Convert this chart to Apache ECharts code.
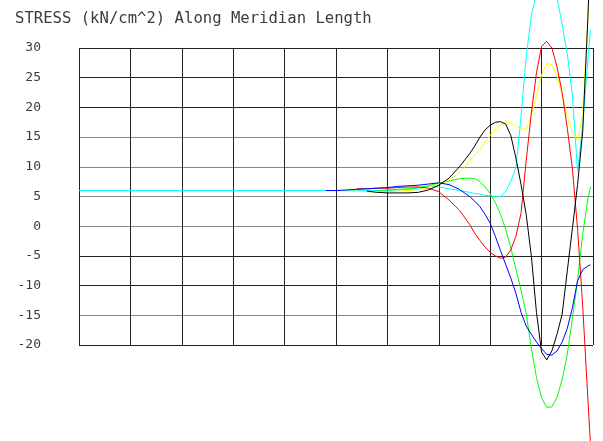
<!DOCTYPE html>
<html>
<head>
<meta charset="utf-8">
<script src="https://cdn.jsdelivr.net/npm/echarts@6/dist/echarts.min.js"></script>
<style>
  html, body { margin: 0; padding: 0; background: #ffffff; }
  #chart { width: 603px; height: 441px; }
</style>
</head>
<body>
<div id="chart"></div>
<script>
// Positions along the meridian (grid columns 0..10)
const positions = [0, 4.8, 5.0, 5.2, 5.4, 5.6, 5.8, 6.0, 6.2, 6.4, 6.6, 6.8, 7.0, 7.2, 7.4, 7.6,
  7.7, 7.8, 7.9, 8.0, 8.1, 8.2, 8.3, 8.4, 8.5, 8.6, 8.7, 8.8, 8.9, 9.0, 9.1, 9.2, 9.3, 9.4, 9.5,
  9.6, 9.7, 9.8, 9.9, 9.95];

// Stress values (kN/cm^2) at each position, one list per curve
const cyanStress = [6.0, 6.0, 6.0, 6.0, 6.0, 6.0, 6.0, 6.0, 6.1, 6.2, 6.4, 6.7, 6.6, 6.3, 6.0, 5.7,
  5.5, 5.4, 5.2, 5.1, 4.9, 5.0, 5.8, 7.6, 9.8, 18.5, 28.5, 35.5, 39.0, 40.8, 41.3, 40.5, 38.5, 34.0, 29.0,
  22.0, 9.3, 17.0, 28.0, 33.0];
const greenStress = [null, null, null, null, null, null, 6.0, 6.1, 6.2, 6.3, 6.5, 6.8, 7.3, 7.6, 8.0, 8.1,
  8.0, 7.5, 6.6, 5.5, 4.0, 2.0, -0.5, -3.6, -7.2, -10.8, -14.7, -20.5, -25.5, -28.9, -30.5, -30.4, -28.8, -25.8, -21.5,
  -15.5, -9.0, -1.3, 4.6, 6.6];
const yellowStress = [null, null, null, 5.9, 5.9, 5.8, 5.8, 5.8, 5.9, 6.0, 6.2, 6.6, 7.1, 7.8, 9.0, 10.9,
  12.0, 12.9, 14.2, 15.3, 16.3, 17.0, 17.4, 17.4, 16.9, 16.3, 16.4, 18.5, 22.0, 25.5, 27.4, 27.2, 25.3, 22.0, 18.5,
  16.0, 14.4, 19.0, 35.0, 45.0];
const redStress = [null, null, null, null, 6.3, 6.3, 6.4, 6.4, 6.5, 6.6, 6.6, 6.4, 5.8, 4.4, 2.7, 0.3,
  -1.2, -2.4, -3.5, -4.4, -5.0, -5.4, -5.2, -4.0, -1.7, 2.2, 11.0, 19.0, 25.8, 30.3, 31.1, 30.0, 26.8, 22.5, 16.5,
  9.6, -0.5, -13.5, -29.0, -36.5];
const blueStress = [null, 6.0, 6.0, 6.1, 6.2, 6.3, 6.4, 6.5, 6.7, 6.8, 6.9, 7.1, 7.3, 7.0, 6.2, 5.0,
  4.2, 3.3, 2.0, 0.5, -1.7, -4.1, -6.4, -8.7, -11.3, -14.5, -16.8, -18.2, -19.5, -20.6, -21.6, -21.7, -21.0, -19.5, -17.2,
  -13.7, -9.2, -7.3, -6.7, -6.5];
const blackStress = [null, null, null, null, null, 5.9, 5.7, 5.6, 5.6, 5.6, 5.7, 6.1, 6.9, 8.1, 10.0, 12.2,
  13.5, 15.0, 16.2, 17.0, 17.5, 17.6, 17.2, 15.3, 11.5, 7.0, 2.0, -5.0, -14.5, -21.2, -22.5, -21.0, -18.2, -14.8, -7.5,
  -0.3, 7.0, 16.0, 35.0, 46.0];

// Stress axis ticks
const stressTicks = [-20, -15, -10, -5, 0, 5, 10, 15, 20, 25, 30];

const curves = [
  { name: 'cyan', color: '#00ffff', values: cyanStress },
  { name: 'green', color: '#00ff00', values: greenStress },
  { name: 'yellow', color: '#ffff00', values: yellowStress },
  { name: 'red', color: '#ff0000', values: redStress },
  { name: 'blue', color: '#0000ff', values: blueStress },
  { name: 'black', color: '#000000', values: blackStress }
];

const chart = echarts.init(document.getElementById('chart'), null, { renderer: 'canvas' });

chart.setOption({
  animation: false,
  backgroundColor: '#ffffff',
  title: {
    text: 'STRESS (kN/cm^2) Along Meridian Length',
    left: 10,
    top: 6,
    textStyle: {
      fontFamily: 'DejaVu Sans Mono',
      fontSize: 15.6,
      fontWeight: 'normal',
      color: '#3c3c3c'
    }
  },
  grid: { left: 79, right: 10, top: 48, bottom: 96, containLabel: false },
  xAxis: {
    type: 'value',
    min: 0,
    max: 10,
    interval: 1,
    axisLine: { show: false },
    axisTick: { show: false },
    axisLabel: { show: false },
    splitLine: { show: true, lineStyle: { color: '#222222', width: 1 } }
  },
  yAxis: {
    type: 'value',
    min: stressTicks[0],
    max: stressTicks[stressTicks.length - 1],
    interval: 5,
    axisLine: { show: false },
    axisTick: { show: false },
    axisLabel: {
      margin: 38,
      fontFamily: 'DejaVu Sans Mono',
      fontSize: 13,
      color: '#3c3c3c'
    },
    splitLine: {
      show: true,
      lineStyle: {
        color: ['#222222', '#888888', '#222222', '#222222', '#888888', '#888888',
                '#888888', '#888888', '#222222', '#222222', '#222222'],
        width: 1
      }
    }
  },
  series: curves.map(c => ({
    type: 'line',
    name: c.name,
    data: positions.map((x, i) => [x, c.values[i]]),
    showSymbol: false,
    symbol: 'none',
    clip: false,
    connectNulls: false,
    lineStyle: { color: c.color, width: 1 },
    itemStyle: { color: c.color },
    emphasis: { disabled: true }
  }))
});
</script>
</body>
</html>
